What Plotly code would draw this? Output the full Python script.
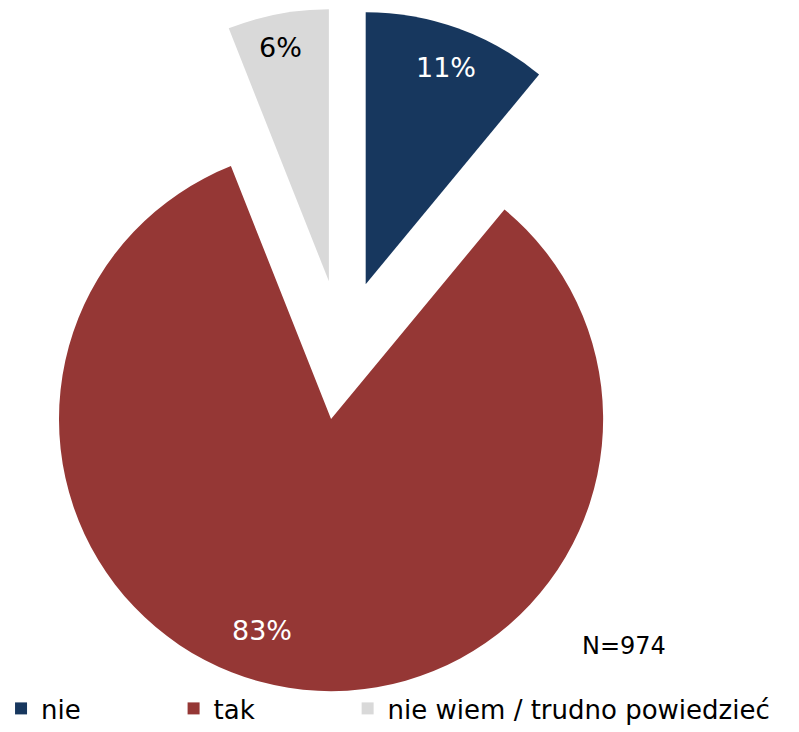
import plotly.graph_objects as go

# Dane z wykresu
labels = ["nie", "tak", "nie wiem / trudno powiedzieć"]
values = [11, 83, 6]
colors = ["#17375E", "#953735", "#D9D9D9"]
text_colors = ["white", "white", "black"]
n_label = "N=974"

W, H = 799, 732

# odstępy w legendzie (twarde spacje za krótkimi etykietami)
legend_pad = ["\u00a0" * 10 + "\u2009", "\u00a0" * 10 + "\u2009", ""]
legend_names = [lab + p for lab, p in zip(labels, legend_pad)]

fig = go.Figure(
    go.Pie(
        labels=legend_names,
        values=values,
        customdata=labels,
        sort=False,
        direction="clockwise",
        rotation=0,
        pull=[0.257, 0.257, 0.257],
        marker=dict(colors=colors, line=dict(width=0)),
        textinfo="none",
        domain=dict(x=[0, 684 / W], y=[1 - 692 / H, 1 - 8 / H]),
        hovertemplate="%{customdata}: %{value}%<extra></extra>",
    )
)

# etykiety procentowe (pozycje jak w oryginale)
label_pos = [(446, 67), (262, 630), (280, 47)]
for val, col, (px, py) in zip(values, text_colors, label_pos):
    fig.add_annotation(
        text=f"{val}%",
        xref="paper",
        yref="paper",
        x=px / W,
        y=1 - py / H,
        xanchor="center",
        yanchor="middle",
        showarrow=False,
        font=dict(size=27, color=col, family="DejaVu Sans"),
    )

fig.add_annotation(
    text=n_label,
    xref="paper",
    yref="paper",
    x=623.5 / W,
    y=1 - 646 / H,
    xanchor="center",
    yanchor="middle",
    showarrow=False,
    font=dict(size=24, color="black", family="DejaVu Sans"),
)

fig.update_layout(
    width=W,
    height=H,
    margin=dict(l=0, r=0, t=0, b=0, autoexpand=False),
    paper_bgcolor="white",
    plot_bgcolor="white",
    font=dict(family="DejaVu Sans", color="black"),
    legend=dict(
        orientation="h",
        x=0.0013,
        y=0,
        xanchor="left",
        yanchor="bottom",
        bgcolor="rgba(0,0,0,0)",
        font=dict(size=26),
        traceorder="normal",
    ),
)

fig.write_html(
    "out.html",
    config={"displayModeBar": False},
    post_script="document.body.style.margin='0';",
)
